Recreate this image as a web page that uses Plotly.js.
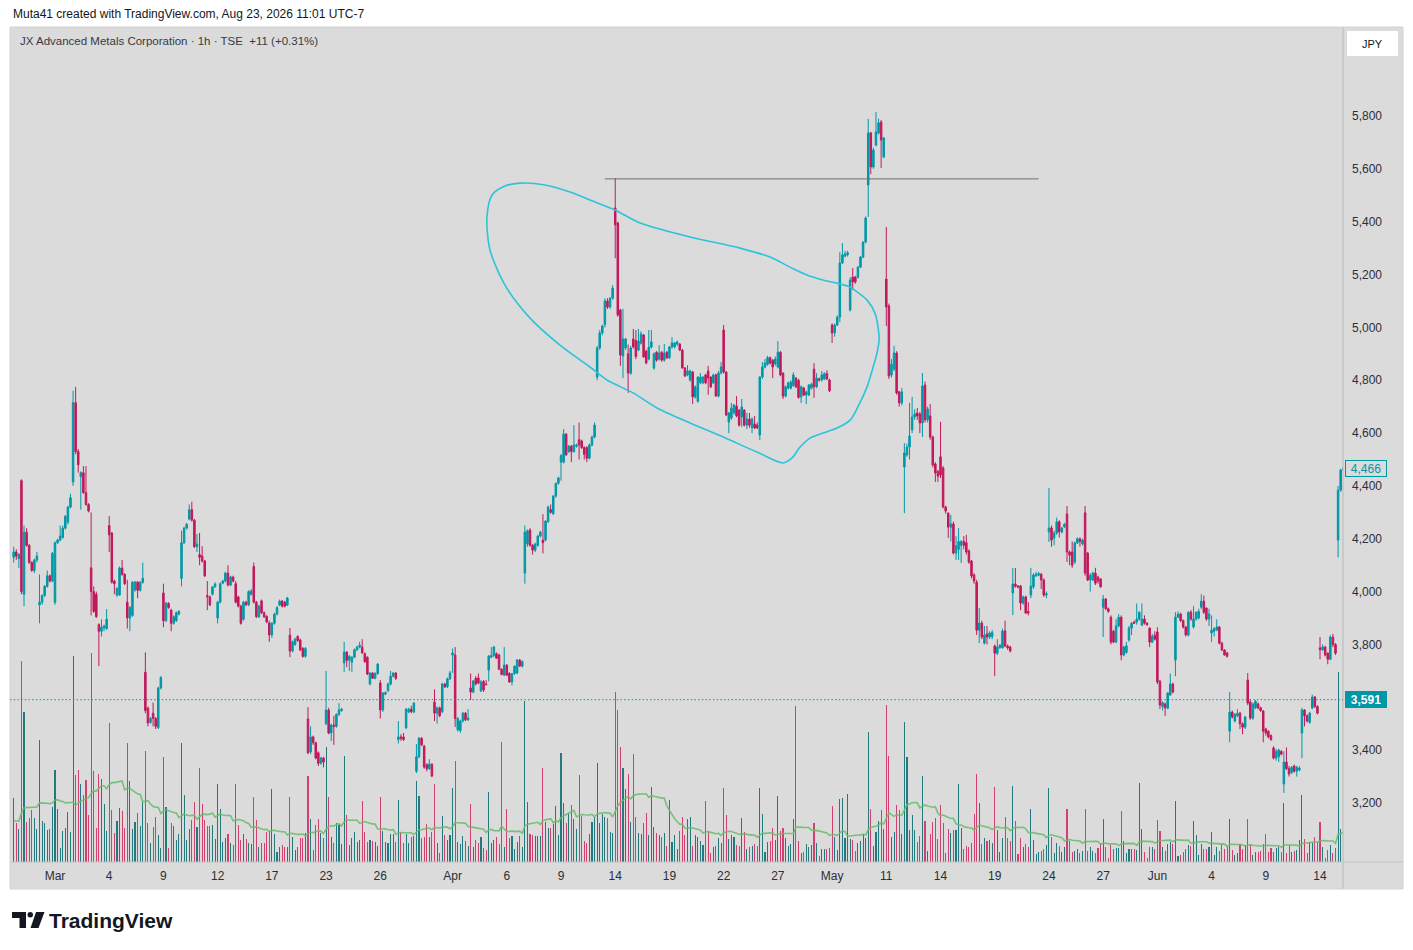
<!DOCTYPE html>
<html><head><meta charset="utf-8">
<script src="https://cdn.plot.ly/plotly-3.0.1.min.js"></script>
<style>html,body{margin:0;padding:0;background:#fff;}#chart{width:1413px;height:950px;}</style>
</head><body><div id="chart"></div>
<script>
// ---- JX Advanced Metals Corporation, 1h bars, TSE ----
const open = [
4130,4150,4125,4420,3990,4225,4175,4110,4080,4120,
3950,3960,3985,4020,4060,4040,3960,4185,4195,4205,
4240,4263,4320,4415,4715,4530,4435,4450,4375,4330,
4090,4000,3990,3875,3850,3862,3860,4250,4222,4040,
3987,3987,4089,4065,3960,3900,3910,4006,4036,4005,
4035,3695,3559,3505,3540,3520,3485,3635,3995,3890,
3955,3930,3880,3890,3915,4050,4185,4240,4275,4310,
4270,4170,4140,4135,4116,3985,3980,3990,4018,3900,
3960,4032,4040,4070,4025,4055,4030,3980,3945,3895,
3960,3950,3990,4095,3960,3905,3965,3920,3907,3881,
3836,3880,3915,3949,3964,3960,3949,3835,3775,3800,
3830,3817,3785,3755,3518,3393,3450,3428,3390,3350,
3370,3500,3552,3465,3495,3490,3535,3550,3730,3771,
3740,3733,3752,3780,3790,3790,3765,3752,3650,3692,
3672,3690,3654,3552,3612,3625,3650,3680,3692,3440,
3450,3450,3485,3545,3555,3545,3320,3375,3445,3415,
3345,3330,3347,3582,3540,3560,3545,3650,3640,3670,
3760,3760,3477,3474,3510,3540,3515,3635,3620,3672,
3673,3624,3660,3650,3703,3752,3758,3765,3760,3706,
3684,3722,3690,3658,3690,3692,3741,3718,4070,4180,
4233,4175,4157,4175,4210,4195,4195,4265,4310,4295,
4362,4410,4490,4490,4596,4530,4550,4530,4550,4575,
4570,4545,4545,4505,4555,4585,4812,4922,4979,5010,
5100,5077,5110,5452,5395,5066,4892,4922,4900,4827,
4956,4950,4914,4940,4971,4910,4880,4925,4846,4906,
4880,4906,4876,4906,4885,4926,4926,4937,4937,4914,
4846,4820,4801,4831,4737,4720,4790,4790,4820,4835,
4812,4790,4820,4740,4827,4990,4831,4642,4657,4676,
4702,4687,4661,4687,4630,4653,4620,4634,4630,4593,
4812,4850,4860,4885,4876,4862,4850,4906,4827,4740,
4770,4770,4780,4808,4800,4737,4771,4744,4744,4770,
4842,4775,4805,4801,4805,4825,4801,5009,4979,5009,
5039,5244,5270,5275,5066,5190,5190,5190,5228,5266,
5323,5539,5736,5607,5690,5736,5777,5645,5183,5081,
4820,4842,4903,4756,4714,4472,4517,4547,4612,4661,
4676,4672,4638,4782,4650,4665,4585,4483,4455,4510,
4468,4320,4297,4244,4256,4146,4160,4175,4190,4185,
4154,4116,4063,4036,3854,3881,3805,3840,3828,3830,
3794,3767,3787,3787,3851,3794,3790,3995,4029,4021,
4021,3957,3980,3925,3987,4018,4060,4062,4066,4044,
3987,4226,4241,4203,4222,4264,4226,4245,4294,4150,
4150,4112,4184,4200,4180,4298,4146,4044,4044,4070,
4055,4048,3941,3972,3935,3903,3850,3809,3870,3903,
3760,3770,3817,3862,3885,3885,3896,3873,3896,3880,
3862,3809,3835,3847,3661,3565,3575,3559,3609,3650,
3741,3903,3915,3890,3866,3836,3922,3866,3896,3900,
3941,3964,3938,3896,3843,3850,3855,3866,3805,3779,
3768,3472,3544,3510,3530,3540,3500,3487,3665,3582,
3521,3560,3575,3560,3548,3480,3472,3455,3408,3370,
3375,3395,3272,3355,3330,3315,3340,3320,3325,3465,
3552,3530,3505,3559,3601,3565,3787,3780,3790,3767,
3744,3828,3800,4195,4384,4460];
const high = [
4170,4160,4145,4425,4250,4240,4180,4115,4125,4150,
4065,3990,4025,4080,4065,4150,4190,4200,4250,4250,
4290,4325,4370,4760,4775,4540,4455,4475,4475,4335,
4300,4020,4000,3880,3895,3875,3934,4286,4225,4045,
4015,4095,4120,4070,4045,3945,4040,4040,4040,4040,
4110,3770,3565,3525,3580,3525,3640,3680,4030,3960,
3960,3935,3910,3925,3930,4230,4245,4260,4330,4340,
4275,4218,4222,4172,4120,4040,3985,4020,4035,3965,
4035,4045,4075,4100,4060,4060,4040,3985,3950,3965,
3965,4005,4010,4110,3965,3950,3970,3925,3910,3890,
3885,3920,3945,3970,3968,3965,3980,3862,3815,3825,
3835,3822,3790,3790,3563,3490,3455,3432,3395,3375,
3375,3700,3560,3500,3530,3540,3578,3560,3810,3775,
3760,3755,3785,3795,3810,3820,3770,3755,3695,3695,
3695,3730,3665,3620,3622,3655,3700,3695,3695,3510,
3460,3465,3560,3560,3568,3582,3423,3450,3450,3420,
3350,3366,3350,3630,3565,3565,3655,3655,3675,3700,
3785,3790,3525,3515,3545,3545,3555,3690,3665,3680,
3690,3665,3665,3665,3760,3790,3795,3770,3765,3710,
3790,3725,3695,3692,3720,3745,3745,3740,4250,4235,
4240,4180,4185,4215,4230,4293,4270,4325,4330,4365,
4412,4435,4520,4615,4600,4555,4555,4630,4560,4640,
4575,4550,4550,4560,4590,4640,4930,4990,5010,5110,
5110,5115,5160,5565,5400,5070,5070,4960,4935,4930,
4994,4990,4994,4985,4975,4915,4990,4990,4905,4910,
4933,4910,4937,4910,4930,4963,4945,4950,4940,4918,
4850,4857,4840,4835,4780,4815,4827,4815,4825,4854,
4815,4825,4825,4835,4869,5009,4835,4680,4714,4710,
4740,4690,4729,4690,4676,4676,4660,4665,4640,4815,
4869,4880,4892,4890,4880,4890,4948,4910,4830,4780,
4795,4800,4830,4812,4805,4780,4775,4760,4785,4790,
4865,4827,4810,4835,4830,4838,4805,5015,5015,5045,
5285,5319,5290,5290,5190,5225,5195,5232,5270,5325,
5420,5789,5740,5680,5815,5790,5785,5720,5380,5090,
4880,4930,4910,4760,4770,4562,4560,4714,4737,4690,
4695,4680,4827,4795,4700,4710,4590,4490,4460,4642,
4475,4325,4300,4290,4265,4210,4240,4195,4210,4215,
4160,4120,4070,4045,3938,3890,3870,3870,3850,3855,
3800,3820,3800,3860,3890,3800,3795,4089,4089,4025,
4025,3985,3985,3960,4090,4070,4075,4075,4070,4050,
4000,4392,4250,4230,4280,4270,4245,4260,4324,4155,
4190,4190,4205,4205,4200,4324,4150,4070,4075,4090,
4060,4050,3987,3975,3940,3910,3855,3896,3915,3910,
3795,3810,3870,3885,3890,3955,3925,3955,3910,3885,
3865,3840,3850,3865,3665,3585,3580,3620,3690,3655,
3922,3925,3920,3895,3870,3925,3930,3945,3925,3935,
3990,3985,3940,3935,3910,3865,3895,3870,3810,3782,
3772,3620,3550,3540,3555,3545,3505,3530,3692,3590,
3580,3590,3580,3565,3552,3485,3475,3460,3415,3405,
3405,3400,3396,3410,3340,3340,3345,3340,3340,3560,
3555,3535,3545,3610,3605,3570,3828,3800,3795,3770,
3835,3840,3805,4400,4465,4470];
const low = [
4110,4120,4090,3990,3945,4170,4105,4075,4070,4110,
3880,3950,3980,4015,4035,4035,3950,4180,4190,4200,
4235,4255,4315,4400,4520,4450,4310,4370,4325,4300,
3910,3920,3900,3718,3830,3850,3855,4150,4030,3990,
3980,3985,4060,4025,3860,3850,3905,4000,3975,4000,
4030,3540,3490,3500,3490,3480,3480,3630,3865,3885,
3935,3850,3875,3885,3910,4020,4180,4235,4270,4265,
4165,4150,4100,4110,4055,3930,3945,3985,4015,3880,
3955,4028,4035,4020,4020,4035,3955,3940,3875,3890,
3945,3945,3985,3955,3900,3900,3915,3900,3880,3810,
3825,3875,3910,3945,3940,3940,3945,3752,3770,3795,
3810,3775,3750,3750,3385,3385,3420,3365,3340,3345,
3335,3495,3460,3435,3420,3485,3530,3545,3696,3714,
3700,3696,3748,3775,3785,3765,3730,3684,3645,3670,
3668,3685,3520,3545,3608,3620,3645,3675,3665,3425,
3435,3435,3480,3540,3540,3540,3313,3370,3415,3330,
3320,3325,3298,3510,3500,3525,3540,3635,3635,3665,
3692,3488,3470,3465,3505,3510,3510,3590,3615,3645,
3650,3620,3620,3645,3660,3748,3752,3745,3705,3684,
3680,3680,3655,3645,3685,3688,3715,3712,4030,4170,
4170,4140,4150,4170,4205,4145,4190,4260,4295,4290,
4355,4405,4420,4485,4515,4525,4490,4525,4545,4500,
4540,4500,4490,4500,4550,4580,4800,4915,4970,5000,
5070,5070,5105,5262,5040,4854,4808,4915,4752,4820,
4920,4880,4910,4935,4885,4860,4875,4920,4840,4870,
4875,4870,4870,4880,4880,4920,4920,4930,4910,4845,
4812,4815,4795,4710,4730,4715,4785,4785,4785,4745,
4770,4785,4738,4735,4822,4825,4665,4600,4650,4670,
4660,4625,4623,4625,4615,4620,4600,4615,4615,4574,
4805,4845,4855,4860,4808,4855,4845,4815,4729,4735,
4765,4765,4775,4770,4730,4714,4740,4710,4740,4765,
4733,4770,4795,4795,4800,4800,4755,4941,4965,5005,
5020,5240,5265,5268,5060,5141,5165,5185,5225,5262,
5318,5418,5580,5600,5685,5730,5603,5640,5005,4805,
4810,4835,4745,4700,4705,4297,4510,4500,4600,4650,
4650,4600,4585,4640,4640,4575,4470,4415,4415,4430,
4315,4295,4203,4190,4140,4120,4120,4108,4160,4140,
4105,4050,4030,3836,3805,3820,3800,3800,3820,3820,
3680,3760,3785,3785,3790,3780,3770,3911,4015,4012,
3930,3950,3915,3910,3975,4010,4055,4058,4010,3980,
3975,4188,4170,4175,4215,4205,4220,4240,4112,4100,
4090,4105,4180,4170,4175,4060,4040,4000,4040,4025,
4030,4015,3828,3930,3920,3800,3805,3805,3865,3740,
3755,3765,3810,3835,3878,3875,3890,3870,3875,3870,
3790,3805,3815,3650,3555,3550,3529,3555,3605,3615,
3680,3900,3885,3860,3830,3830,3890,3860,3890,3895,
3935,3915,3890,3870,3810,3830,3850,3800,3775,3758,
3750,3430,3520,3505,3525,3480,3460,3480,3570,3515,
3515,3555,3555,3545,3430,3455,3445,3435,3365,3360,
3355,3380,3238,3325,3300,3310,3315,3300,3320,3370,
3490,3505,3500,3555,3560,3535,3744,3775,3755,3725,
3740,3790,3760,4130,4378,4455];
const close = [
4150,4135,4140,4000,4225,4175,4110,4080,4120,4135,
3960,3985,4020,4060,4040,4145,4185,4195,4210,4240,
4285,4320,4355,4715,4530,4480,4450,4375,4330,4305,
4000,3925,3905,3850,3865,3870,3895,4215,4036,4030,
4013,4089,4065,4030,3900,3940,4035,4036,4005,4035,
4050,3550,3503,3520,3520,3490,3635,3675,3890,3957,
3940,3880,3905,3920,3925,4185,4240,4255,4310,4270,
4170,4180,4130,4116,4060,3980,3950,4018,4029,3960,
4030,4040,4070,4025,4055,4040,3960,3945,3880,3960,
3950,4000,4002,3960,3905,3945,3920,3905,3885,3836,
3880,3915,3940,3964,3945,3945,3976,3775,3810,3820,
3815,3779,3755,3785,3390,3450,3428,3370,3350,3370,
3355,3552,3465,3495,3490,3535,3552,3555,3771,3740,
3755,3752,3780,3790,3797,3768,3735,3688,3692,3672,
3690,3725,3552,3616,3618,3650,3680,3692,3672,3450,
3445,3440,3555,3555,3545,3578,3375,3445,3420,3336,
3330,3347,3302,3540,3560,3530,3650,3640,3670,3692,
3768,3520,3520,3510,3540,3515,3522,3620,3662,3650,
3654,3658,3628,3648,3756,3758,3790,3748,3706,3686,
3722,3684,3658,3690,3718,3741,3718,3735,4225,4230,
4175,4157,4180,4210,4225,4185,4267,4320,4300,4362,
4410,4430,4515,4596,4517,4550,4530,4555,4555,4555,
4545,4520,4505,4555,4585,4630,4922,4979,5005,5100,
5077,5110,5149,5388,5047,4895,4956,4956,4827,4922,
4926,4890,4948,4975,4888,4865,4925,4945,4900,4876,
4903,4876,4903,4885,4926,4941,4941,4945,4914,4846,
4816,4835,4835,4737,4775,4812,4812,4812,4790,4808,
4775,4820,4740,4827,4850,4831,4668,4676,4695,4706,
4665,4630,4699,4630,4653,4630,4653,4619,4620,4812,
4850,4865,4885,4865,4850,4880,4906,4820,4740,4775,
4790,4793,4820,4775,4735,4775,4744,4756,4782,4785,
4775,4808,4801,4820,4825,4805,4760,4979,5009,5039,
5244,5274,5278,5282,5179,5172,5172,5228,5266,5323,
5414,5736,5607,5671,5740,5774,5709,5717,5077,4816,
4861,4903,4752,4714,4756,4525,4547,4589,4661,4672,
4665,4638,4778,4650,4691,4585,4479,4449,4437,4442,
4320,4305,4244,4256,4146,4173,4190,4190,4175,4150,
4112,4059,4040,3854,3881,3828,3836,3828,3843,3845,
3767,3790,3798,3851,3794,3787,3775,4029,4020,4018,
3957,3980,3919,3919,4021,4063,4066,4068,4044,3987,
3992,4241,4195,4222,4264,4226,4241,4255,4150,4138,
4100,4184,4200,4190,4195,4070,4044,4062,4070,4032,
4040,4018,3972,3935,3925,3809,3809,3870,3903,3760,
3790,3795,3862,3880,3880,3896,3922,3896,3880,3875,
3809,3830,3820,3658,3571,3580,3560,3616,3650,3620,
3903,3915,3890,3866,3836,3922,3896,3896,3922,3925,
3964,3922,3896,3915,3854,3860,3866,3805,3779,3760,
3755,3544,3525,3535,3540,3500,3487,3525,3578,3521,
3575,3585,3560,3550,3472,3465,3450,3440,3370,3395,
3400,3385,3355,3330,3310,3335,3320,3335,3332,3552,
3530,3510,3540,3601,3565,3540,3780,3790,3760,3744,
3828,3800,3767,4384,4460,4466];
const volume = [
64,39,33,201,150,40,44,52,44,33,
122,41,39,32,33,55,92,53,14,31,
34,50,30,206,87,92,78,67,82,47,
209,91,34,88,83,58,31,139,52,29,
41,54,51,34,119,81,33,40,49,36,
60,111,39,19,35,45,27,14,105,55,
14,39,36,22,28,119,67,22,33,42,
60,35,94,58,42,36,36,37,23,78,
53,20,24,28,19,17,78,37,22,28,
23,19,18,65,42,15,19,19,30,31,
73,28,10,15,17,15,15,65,25,12,
15,24,24,29,86,43,12,37,43,29,
24,115,65,25,19,39,37,
18,106,47,17,24,30,20,22,61,30,
20,22,21,20,16,65,31,20,19,28,
28,20,62,30,19,28,19,25,26,81,
66,24,25,38,25,30,78,19,9,46,
27,22,27,74,101,20,18,26,21,16,
58,15,22,19,25,14,12,70,19,22,
25,18,120,15,53,24,26,13,20,26,
15,161,60,28,27,26,26,26,94,40,
34,34,38,56,27,109,59,39,49,57,
43,33,87,46,21,19,28,40,45,99,
39,48,45,44,30,29,170,152,115,94,
73,88,40,108,45,29,28,39,49,27,
75,35,29,27,25,29,16,62,20,27,
13,31,45,27,43,45,
16,27,25,21,17,61,30,9,15,16,
24,19,74,47,23,27,25,17,16,44,
30,13,15,16,18,16,74,48,10,20,
21,34,22,66,31,34,24,16,18,43,
156,21,9,10,18,15,17,39,19,6,
13,13,13,14,56,25,12,63,64,24,
68,23,22,11,19,21,28,24,130,53,
16,30,41,52,33,157,106,25,30,57,
52,28,140,105,32,47,32,20,26,86,
41,11,28,40,44,23,57,39,9,33,
29,32,32,78,34,13,16,15,19,48,
88,59,18,24,21,22,19,75,32,10,
24,45,24,21,76,41,8,24,15,18,15,
53,22,8,10,11,13,17,74,25,9,
19,16,10,15,53,21,10,11,13,9,
11,53,11,15,11,9,14,19,43,15,
4,17,13,14,14,51,21,9,13,13,
13,12,79,33,10,4,15,15,13,42,
31,15,11,18,20,18,61,6,7,10,
13,17,16,41,27,7,18,13,13,15,
30,7,15,11,18,13,15,43,12,7,
9,18,13,17,43,17,7,10,10,11,
18,28,10,14,10,14,15,10,59,9,
17,10,11,12,22,67,23,9,20,19,
25,20,40,15,4,12,17,9,14,190,
33,29];
// volume-MA level at the left edge of the picture (bars before the first one are not shown)
const volMAStartLevel = 40;
const volMAPeriod = 20;

// x-axis tick labels (bar index of each labelled session start)
const tickBars   = [16,37,58,79,100,121,142,170,191,212,233,254,275,296,317,338,359,380,401,422,443,464,485,506];
const tickLabels = ['Mar','4','9','12','17','23','26','Apr','6','9','14','19','22','27','May','11','14','19','24','27','Jun','4','9','14'];
const priceTicks = [3200,3400,3600,3800,4000,4200,4400,4600,4800,5000,5200,5400,5600,5800];

const lastPrice = 4466;
const markerPrice = 3591;
const resistancePrice = 5562;
const resistanceFrom = 229, resistanceTo = 397;

// hand-drawn loop annotation (bar index, price)
const loopBars   = [185.3,190.3,196.1,205.8,215.5,223.2,232.9,242.6,262.0,281.3,293.0,300.7,307.3,313.5,320.1,324.0,326.7,330.5,333.6,334.8,335.2,334.4,332.9,330.5,327.0,324.0,318.9,313.5,308.5,304.6,301.5,298.0,287.9,274.8,262.0,249.2,239.9,229.8,223.2,211.6,200.0,190.3,184.5,183.3,185.3];
const loopPrices = [5501,5535,5546,5539,5512,5482,5444,5395,5342,5300,5266,5228,5198,5179,5164,5153,5134,5104,5054,5001,4952,4903,4850,4774,4699,4649,4619,4600,4581,4547,4506,4487,4528,4585,4638,4695,4752,4801,4850,4933,5035,5160,5293,5414,5501];

// ---- build ----
const n = Math.min(open.length, high.length, low.length, close.length, volume.length);
const idx = Array.from({length:n}, (_, i) => i);
const O = open.slice(0,n), H = high.slice(0,n), L = low.slice(0,n), C = close.slice(0,n), V = volume.slice(0,n);
const volMA = V.map((v, i) => {
  const s = Math.max(0, i - volMAPeriod + 1); let sum = 0;
  for (let k = s; k <= i; k++) sum += V[k];
  const missing = volMAPeriod - (i - s + 1);
  return (sum + missing * volMAStartLevel) / volMAPeriod;
});
const UP = '#0097a7', DOWN = '#c2185b';
const volColors = C.map((c, i) => c >= O[i] ? '#23797d' : '#d2406f');

const FONT = 'Liberation Sans, Arial, sans-serif';
const PLOT_L = 10, PLOT_R = 1343, PLOT_T = 27, PLOT_B = 862;
const px = X => (X - PLOT_L) / (PLOT_R - PLOT_L);
const py = Y => (PLOT_B - Y) / (PLOT_B - PLOT_T);
const BG = '#dbdbdb';

const traces = [
  {type:'bar', x: idx, y: V, xaxis:'x', yaxis:'y', width: 0.42,
   marker:{color: volColors, line:{width:0}}, hoverinfo:'skip'},
  {type:'scatter', mode:'lines', x: idx, y: volMA, xaxis:'x', yaxis:'y',
   line:{color:'rgba(102,187,106,0.85)', width:1.6}, hoverinfo:'skip'},
  {type:'candlestick', x: idx, open: O, high: H, low: L, close: C, xaxis:'x', yaxis:'y2',
   increasing:{line:{color:UP, width:1}, fillcolor:UP},
   decreasing:{line:{color:DOWN, width:1}, fillcolor:DOWN},
   whiskerwidth:0, hoverinfo:'skip'},
  {type:'scatter', mode:'lines', x: loopBars, y: loopPrices, xaxis:'x', yaxis:'y2',
   line:{color:'#2cc3db', width:1.6, shape:'spline', smoothing:0.8}, hoverinfo:'skip'}
];

const shapes = [
  {type:'rect', xref:'paper', yref:'paper', x0:1, x1:px(1403), y0:py(889), y1:1, fillcolor:BG, line:{width:0}, layer:'below'},
  {type:'rect', xref:'paper', yref:'paper', x0:0, x1:1, y0:py(889), y1:0, fillcolor:BG, line:{width:0}, layer:'below'},
  {type:'line', xref:'paper', yref:'paper', x0:1, x1:1, y0:py(889), y1:1, line:{color:'#b9b9b9', width:1}},
  {type:'line', xref:'paper', yref:'paper', x0:0, x1:px(1403), y0:0, y1:0, line:{color:'#c4c4c4', width:1}},
  {type:'rect', xref:'paper', yref:'paper', x0:0, x1:px(1403), y0:py(889), y1:1, line:{color:'#d2d2d2', width:1}, fillcolor:'rgba(0,0,0,0)'},
  {type:'rect', xref:'paper', yref:'paper', x0:px(1347), x1:px(1398), y0:py(56), y1:py(31), fillcolor:'#ffffff', line:{width:0}},
  {type:'line', xref:'paper', yref:'y2', x0:0, x1:1, y0:markerPrice, y1:markerPrice, line:{color:UP, width:1, dash:'1.5px,2.2px'}},
  {type:'line', xref:'x', yref:'y2', x0:resistanceFrom, x1:resistanceTo, y0:resistancePrice, y1:resistancePrice, line:{color:'#707070', width:1}},
  {type:'rect', xref:'paper', yref:'paper', x0:px(12), x1:px(26), y0:py(918), y1:py(912), fillcolor:'#131722', line:{width:0}},
  {type:'rect', xref:'paper', yref:'paper', x0:px(19.5), x1:px(26), y0:py(928), y1:py(912), fillcolor:'#131722', line:{width:0}},
  {type:'circle', xref:'paper', yref:'paper', x0:px(27.5), x1:px(33), y0:py(917.5), y1:py(912), fillcolor:'#131722', line:{width:0}},
  {type:'path', xref:'paper', yref:'paper', fillcolor:'#131722', line:{width:0},
   path:`M ${px(36)} ${py(912)} L ${px(44.5)} ${py(912)} L ${px(38.5)} ${py(928)} L ${px(30.5)} ${py(928)} Z`}
];

const annotations = [
  {xref:'paper', yref:'paper', x:px(11), y:py(14), xanchor:'left', yanchor:'middle', showarrow:false,
   text:'Muta41 created with TradingView.com, Aug 23, 2026 11:01 UTC-7', font:{family:FONT, size:12, color:'#131722'}},
  {xref:'paper', yref:'paper', x:px(18), y:py(41), xanchor:'left', yanchor:'middle', showarrow:false,
   text:'JX Advanced Metals Corporation · 1h · TSE\u00a0 +11 (+0.31%)', font:{family:FONT, size:11.5, color:'#363a45'}},
  {xref:'paper', yref:'paper', x:px(1372.5), y:py(44), xanchor:'center', yanchor:'middle', showarrow:false,
   text:'JPY', font:{family:FONT, size:11, color:'#131722'}},
  {xref:'paper', yref:'y2', x:px(1345), y:lastPrice, xanchor:'left', yanchor:'middle', showarrow:false,
   text:'4,466', font:{family:FONT, size:12, color:UP}, bgcolor:BG, bordercolor:UP, borderwidth:1, borderpad:1, width:38, height:13},
  {xref:'paper', yref:'y2', x:px(1345), y:markerPrice, xanchor:'left', yanchor:'middle', showarrow:false,
   text:'<b>3,591</b>', font:{family:FONT, size:12, color:'#ffffff'}, bgcolor:UP, bordercolor:UP, borderwidth:1, borderpad:1, width:38, height:13},
  {xref:'paper', yref:'paper', x:px(47), y:py(920), xanchor:'left', yanchor:'middle', showarrow:false,
   text:'<b>TradingView</b>', font:{family:FONT, size:21, color:'#131722'}}
];

const layout = {
  width:1413, height:950,
  margin:{l:PLOT_L, r:1413-PLOT_R, t:PLOT_T, b:950-PLOT_B, pad:0},
  paper_bgcolor:'#ffffff', plot_bgcolor:BG,
  showlegend:false, hovermode:false, dragmode:false,
  boxgap:0.35, boxgroupgap:0.1, bargap:0,
  xaxis:{range:[-1.43, 514.9], tickvals:tickBars, ticktext:tickLabels, ticks:'', showgrid:false, zeroline:false,
         showline:false, rangeslider:{visible:false}, fixedrange:true, ticklabelstandoff:5,
         tickfont:{family:FONT, size:12, color:'#2a2e39'}},
  yaxis:{range:[0, 835], visible:false, fixedrange:true, showgrid:false, zeroline:false},
  yaxis2:{overlaying:'y', side:'right', anchor:'x', range:[2976.7, 6136.8], tickvals:priceTicks, tickformat:',d',
          ticks:'', showgrid:false, zeroline:false, showline:false, fixedrange:true, ticklabelstandoff:8,
          tickfont:{family:FONT, size:12, color:'#2a2e39'}},
  shapes, annotations
};

Plotly.newPlot('chart', traces, layout, {staticPlot:true, displayModeBar:false});
</script>
</body></html>
